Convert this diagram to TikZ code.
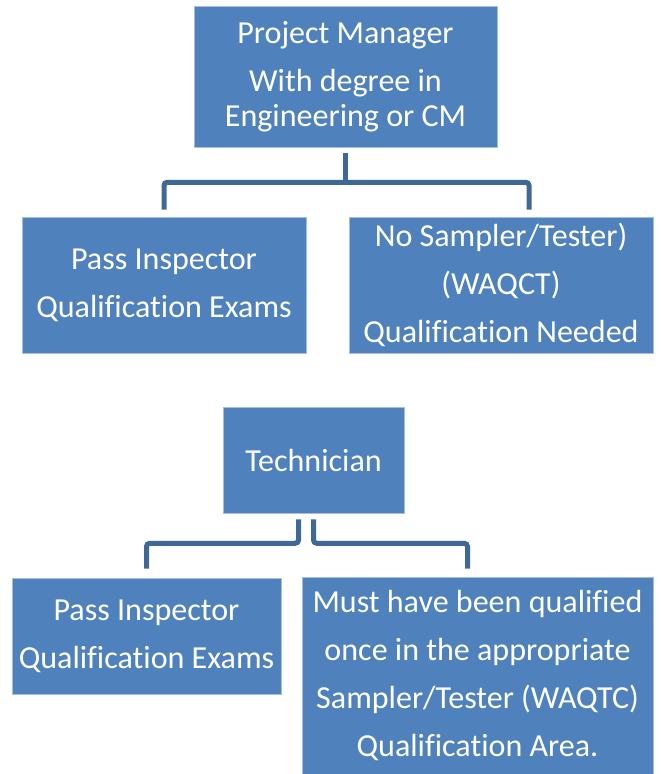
\documentclass[tikz,border=0pt]{standalone}
\usepackage{fontspec}
\setmainfont{Carlito}[Ligatures=NoCommon]
\usetikzlibrary{positioning}
\definecolor{boxblue}{RGB}{79,129,189}
\definecolor{boxedge}{RGB}{167,191,222}
\definecolor{linkblue}{RGB}{63,103,151}
\tikzstyle{chartbox}=[draw=boxedge,line width=0.4pt,fill=boxblue,text=white,align=center,inner sep=0pt,font=\fontsize{22.8pt}{24.9pt}\selectfont]
\tikzstyle{chartlink}=[draw=linkblue,line width=0.125cm,rounded corners=0.08cm]
\tikzstyle{justdown}=[shift={(0cm,-0.15cm)}]
\tikzstyle{justup}=[shift={(0cm,0.2cm)}]

\begin{document}
\begin{tikzpicture}
\useasboundingbox (0cm,0cm) rectangle (16.5cm,-19.35cm);

\node[chartbox,minimum width=7.575cm,minimum height=3.525cm]
 (PM) at (8.6375cm,-1.9125cm) {Project Manager\\[0.325cm] With degree in\\ Engineering or CM};
\node[chartbox,minimum width=7.1cm,minimum height=3.4cm]
 (PI1) at (4.1cm,-7.125cm) {Pass Inspector\\[0.325cm] Qualification Exams};
\node[chartbox,minimum width=7.6cm,minimum height=3.4cm]
 (NST) at (12.525cm,-7.125cm) {No Sampler/Tester)\\[0.325cm] (WAQCT)\\[0.325cm] Qualification Needed};

\node[chartbox,minimum width=4.525cm,minimum height=2.65cm]
 (TECH) at (7.8375cm,-11.5cm) {Technician};
\node[chartbox,minimum width=6.725cm,minimum height=2.9cm]
 (PI2) at (3.6625cm,-15.9cm) {Pass Inspector\\[0.325cm] Qualification Exams};
\node[chartbox,minimum width=8.775cm,minimum height=4.925cm]
 (MUST) at (11.9375cm,-16.8875cm) {Must have been qualified\\[0.325cm] once in the appropriate\\[0.325cm] Sampler/Tester (WAQTC)\\[0.325cm] Qualification Area.};

% project manager branch
\coordinate[justdown] (PMS) at (PM.south);
\coordinate[shift={(0cm,-0.725cm)}] (PMBAR) at (PMS);
\coordinate[shift={(0cm,0.175cm)}] (PI1N) at (PI1.north);
\coordinate[shift={(0.7cm,0.175cm)}] (NSTN) at (NST.north);

\draw[chartlink] (PMS) -- (PMBAR);
\draw[chartlink] (PI1N) |- (PMBAR) -| (NSTN);

% technician branch
\coordinate[shift={(-0.375cm,-0.15cm)}] (TECHSL) at (TECH.south);
\coordinate[justdown] (TECHSR) at (TECH.south);
\coordinate[shift={(0cm,-0.6cm)}] (TECHBL) at (TECHSL);
\coordinate[shift={(0cm,-0.6cm)}] (TECHBR) at (TECHSR);
\coordinate[shift={(0cm,0.225cm)}] (PI2N) at (PI2.north);
\coordinate[shift={(-0.25cm,0.2cm)}] (MUSTN) at (MUST.north);

\draw[chartlink] (TECHSL) -- (TECHBL) -| (PI2N);
\draw[chartlink] (TECHSR) -- (TECHBR) -| (MUSTN);

\end{tikzpicture}
\end{document}
